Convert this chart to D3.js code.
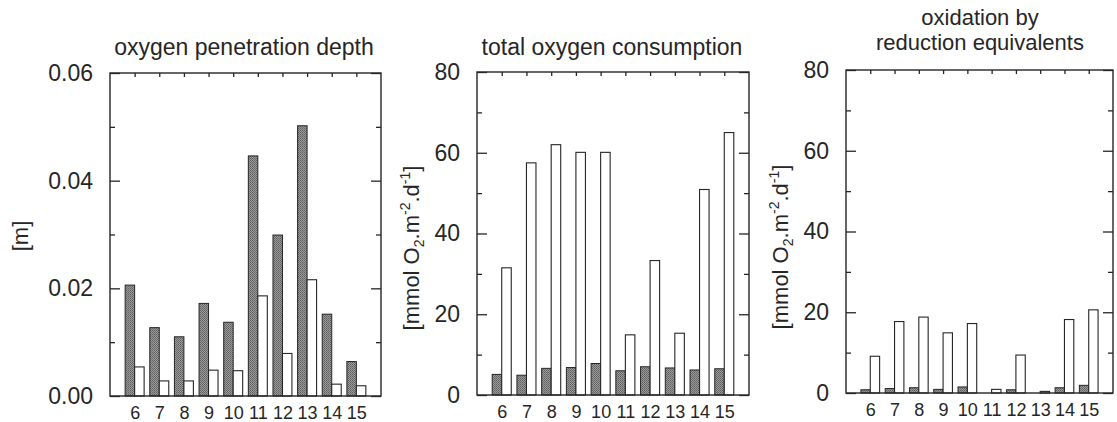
<!DOCTYPE html>
<html>
<head>
<meta charset="utf-8">
<script src="https://cdn.jsdelivr.net/npm/d3@7"></script>
<style>
  body { margin: 0; background: #fff; }
  svg { display: block; font-family: "Liberation Sans", Arial, Helvetica, sans-serif; }
</style>
</head>
<body>
<svg id="chart" width="1117" height="422"></svg>
<script>
// ---------- data ----------
const categories = [6, 7, 8, 9, 10, 11, 12, 13, 14, 15];

// oxygen penetration depth [m]
const depthShaded = [0.0206, 0.0127, 0.0110, 0.0172, 0.0137, 0.0446, 0.0299, 0.0502, 0.0152, 0.0064];
const depthOpen   = [0.0054, 0.0028, 0.0028, 0.0048, 0.0047, 0.0186, 0.0079, 0.0216, 0.0022, 0.0019];

// total oxygen consumption [mmol O2 m-2 d-1]
const consShaded = [5.1, 4.9, 6.6, 6.8, 7.8, 6.0, 7.0, 6.7, 6.2, 6.5];
const consOpen   = [31.5, 57.5, 62.0, 60.1, 60.1, 14.9, 33.3, 15.3, 50.9, 65.0];

// oxidation by reduction equivalents [mmol O2 m-2 d-1]
const redShaded = [0.8, 1.1, 1.3, 0.9, 1.5, 0.0, 0.8, 0.0, 1.3, 1.9];
const redOpen   = [9.1, 17.7, 18.8, 14.9, 17.2, 0.9, 9.4, 0.4, 18.2, 20.6];

const depthTicks = [0, 0.02, 0.04, 0.06];
const depthMinor = [0.01, 0.03, 0.05];
const fluxTicks = [0, 20, 40, 60, 80];
const fluxMinor = [10, 30, 50, 70];

const titles1 = ["oxygen penetration depth"];
const titles2 = ["total oxygen consumption"];
const titles3 = ["oxidation by", "reduction equivalents"];

// ---------- drawing ----------
const svg = d3.select("#chart");
const ink = "#262626";

const defs = svg.append("defs");
const pat = defs.append("pattern").attr("id", "stipple")
  .attr("patternUnits", "userSpaceOnUse").attr("width", 2).attr("height", 2);
pat.append("rect").attr("width", 2).attr("height", 2).attr("fill", "#9a9a9a");
pat.append("rect").attr("width", 1).attr("height", 1).attr("fill", "#5e5e5e");
pat.append("rect").attr("x", 1).attr("y", 1).attr("width", 1).attr("height", 1).attr("fill", "#6e6e6e");

function panel(cfg) {
  const { left, right, top, bottom, domain, major, minor, fmt, shaded, open } = cfg;
  const g = svg.append("g");
  const x = d3.scalePoint().domain(categories).range([left, right]).padding(1);
  const y = d3.scaleLinear().domain(domain).range([bottom, top]);
  const bw = x.step() * 0.385;

  // bars
  g.selectAll("rect.sh").data(categories).join("rect")
    .attr("x", d => x(d) - bw)
    .attr("y", (d, i) => y(shaded[i]))
    .attr("width", bw)
    .attr("height", (d, i) => y(0) - y(shaded[i]))
    .attr("fill", "url(#stipple)")
    .attr("stroke", ink)
    .attr("stroke-width", 1)
    .style("display", (d, i) => shaded[i] > 0 ? null : "none");
  g.selectAll("rect.op").data(categories).join("rect")
    .attr("x", d => x(d))
    .attr("y", (d, i) => y(open[i]))
    .attr("width", bw)
    .attr("height", (d, i) => y(0) - y(open[i]))
    .attr("fill", "#fff")
    .attr("stroke", ink)
    .attr("stroke-width", 1.1)
    .style("display", (d, i) => open[i] > 0 ? null : "none");

  // frame
  g.append("rect").attr("x", left).attr("y", top)
    .attr("width", right - left).attr("height", bottom - top)
    .attr("fill", "none").attr("stroke", ink).attr("stroke-width", 1.4);

  function styleTicks(sel) {
    sel.select(".domain").remove();
    sel.selectAll(".tick line").attr("stroke", ink).attr("stroke-width", 1.3);
  }
  // inward ticks
  g.append("g").attr("transform", `translate(${left},0)`)
    .call(d3.axisLeft(y).tickValues(major).tickSize(-10).tickFormat("")).call(styleTicks);
  g.append("g").attr("transform", `translate(${left},0)`)
    .call(d3.axisLeft(y).tickValues(minor).tickSize(-5).tickFormat("")).call(styleTicks);
  g.append("g").attr("transform", `translate(${right},0)`)
    .call(d3.axisRight(y).tickValues(major).tickSize(-10).tickFormat("")).call(styleTicks);
  g.append("g").attr("transform", `translate(${right},0)`)
    .call(d3.axisRight(y).tickValues(minor).tickSize(-5).tickFormat("")).call(styleTicks);
  g.append("g").attr("transform", `translate(0,${top})`)
    .call(d3.axisTop(x).tickSize(-4).tickFormat("")).call(styleTicks);

  // labels
  const yl = g.append("g").attr("transform", `translate(${left},0)`)
    .call(d3.axisLeft(y).tickValues(major).tickSize(0).tickPadding(17).tickFormat(fmt));
  yl.select(".domain").remove();
  yl.selectAll("text").attr("font-size", 23).attr("fill", ink)
    .attr("font-family", '"Liberation Sans", Arial, sans-serif');

  const xl = g.append("g").attr("transform", `translate(0,${bottom})`)
    .call(d3.axisBottom(x).tickSize(0).tickPadding(10));
  xl.select(".domain").remove();
  xl.selectAll("text").attr("font-size", 18).attr("fill", ink)
    .attr("font-family", '"Liberation Sans", Arial, sans-serif');

  // title
  cfg.title.forEach((t, i) => {
    g.append("text").attr("x", cfg.titleX).attr("y", cfg.titleY + i * cfg.titleGap)
      .attr("text-anchor", "middle").attr("font-size", cfg.titleSize).attr("fill", ink).text(t);
  });

  // y label
  const lab = g.append("text")
    .attr("transform", `translate(${cfg.labX},${cfg.labY}) rotate(-90)`)
    .attr("text-anchor", "middle").attr("font-size", 22).attr("fill", ink);
  cfg.label(lab);
}

function unitLabel(t) {
  t.append("tspan").text("[mmol O");
  t.append("tspan").attr("font-size", 14).attr("dy", 5).text("2");
  t.append("tspan").attr("dy", -5).text(".m");
  t.append("tspan").attr("font-size", 14).attr("dy", -9).text("-2");
  t.append("tspan").attr("dy", 9).text(".d");
  t.append("tspan").attr("font-size", 14).attr("dy", -9).text("-1");
  t.append("tspan").attr("dy", 9).text("]");
}

panel({
  left: 110, right: 381, top: 73, bottom: 396,
  domain: [0, 0.06], major: depthTicks, minor: depthMinor, fmt: d3.format(".2f"),
  shaded: depthShaded, open: depthOpen,
  title: titles1, titleX: 244, titleY: 55, titleGap: 0, titleSize: 23,
  labX: 28, labY: 236, label: t => t.text("[m]")
});
panel({
  left: 477, right: 749, top: 72, bottom: 395,
  domain: [0, 80], major: fluxTicks, minor: fluxMinor, fmt: d3.format("d"),
  shaded: consShaded, open: consOpen,
  title: titles2, titleX: 612, titleY: 55, titleGap: 0, titleSize: 23,
  labX: 419, labY: 248, label: unitLabel
});
panel({
  left: 846, right: 1113, top: 70, bottom: 393,
  domain: [0, 80], major: fluxTicks, minor: fluxMinor, fmt: d3.format("d"),
  shaded: redShaded, open: redOpen,
  title: titles3, titleX: 980, titleY: 25, titleGap: 24.5, titleSize: 22,
  labX: 788, labY: 247, label: unitLabel
});
</script>
</body>
</html>
